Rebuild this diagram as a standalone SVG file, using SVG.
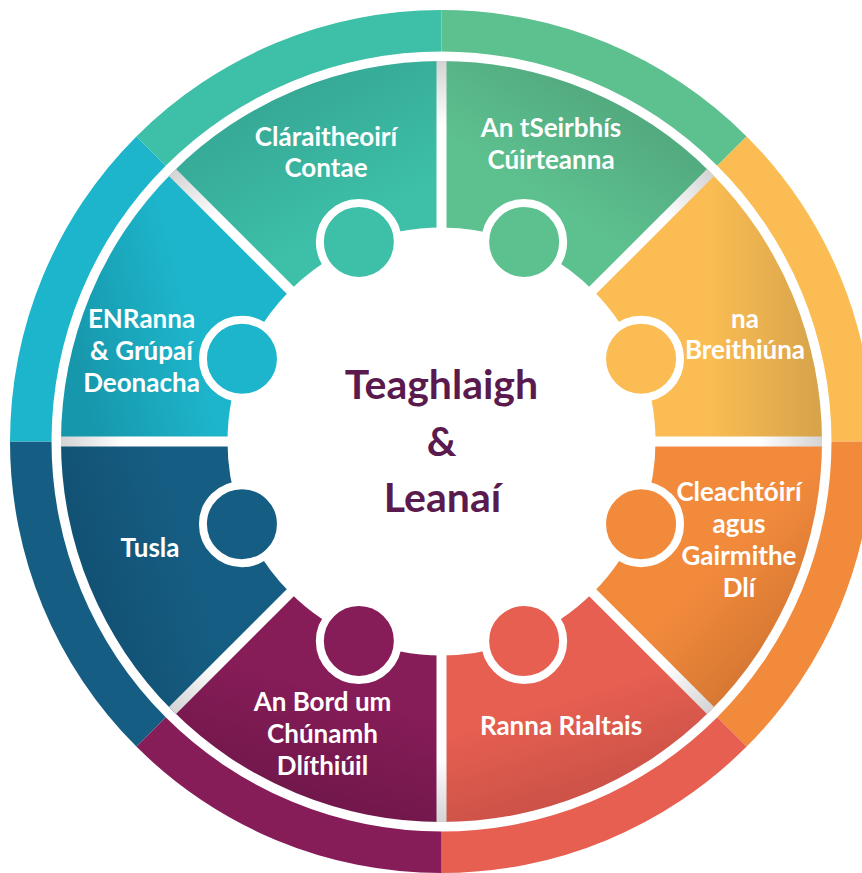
<svg xmlns="http://www.w3.org/2000/svg" width="862" height="873" viewBox="0 0 862 873">
<style>
.lbl{font-family:Lato,"Open Sans","Liberation Sans",sans-serif;font-weight:700;font-size:26px;fill:#ffffff;text-anchor:middle}
.title{font-family:Lato,"Open Sans","Liberation Sans",sans-serif;font-weight:700;font-size:41px;fill:#5b1a4e;text-anchor:middle}
.head{stroke:#ffffff;stroke-width:8}
.div{stroke:url(#divGrad);stroke-width:10;fill:none}
</style>
<defs>
<radialGradient id="divGrad" gradientUnits="userSpaceOnUse" cx="441.5" cy="441.5" r="380.5">
<stop offset="0" stop-color="#ffffff"/>
<stop offset="0.83" stop-color="#ffffff"/>
<stop offset="1" stop-color="#d4d4d4"/>
</radialGradient>
<linearGradient id="gTeal" x1="0.15" y1="0" x2="0.6" y2="0.75"><stop offset="0" stop-color="#33a08e"/><stop offset="1" stop-color="#3dbfa8"/></linearGradient>
<linearGradient id="gGreen" x1="0.9" y1="0.05" x2="0.45" y2="0.65"><stop offset="0" stop-color="#4d9f77"/><stop offset="1" stop-color="#5dc08f"/></linearGradient>
<linearGradient id="gYellow" x1="1" y1="0.5" x2="0.5" y2="0.5"><stop offset="0" stop-color="#d6a34b"/><stop offset="1" stop-color="#fbbd53"/></linearGradient>
<linearGradient id="gOrange" x1="0.95" y1="0.9" x2="0.55" y2="0.45"><stop offset="0" stop-color="#c86f2e"/><stop offset="1" stop-color="#f28a3c"/></linearGradient>
<linearGradient id="gRed" x1="0.7" y1="1" x2="0.5" y2="0.45"><stop offset="0" stop-color="#c24c44"/><stop offset="1" stop-color="#e65f51"/></linearGradient>
<linearGradient id="gPurple" x1="0.3" y1="1" x2="0.5" y2="0.4"><stop offset="0" stop-color="#6a1647"/><stop offset="1" stop-color="#861c58"/></linearGradient>
<linearGradient id="gBlue" x1="0" y1="0.6" x2="0.55" y2="0.4"><stop offset="0" stop-color="#104e6f"/><stop offset="1" stop-color="#165d83"/></linearGradient>
<linearGradient id="gCyan" x1="0" y1="0.5" x2="0.5" y2="0.35"><stop offset="0" stop-color="#1797ab"/><stop offset="1" stop-color="#1db5cb"/></linearGradient>
</defs>
<rect width="862" height="873" fill="#ffffff"/>

<g id="outer-ring">
<path d="M136.38 136.38 A431.5 431.5 0 0 1 441.5 10 L441.5 51.5 A390 390 0 0 0 165.73 165.73 Z" fill="#3dbfa8"/>
<path d="M441.5 10 A431.5 431.5 0 0 1 746.62 136.38 L717.27 165.73 A390 390 0 0 0 441.5 51.5 Z" fill="#5dc08f"/>
<path d="M746.62 136.38 A431.5 431.5 0 0 1 873 441.5 L831.5 441.5 A390 390 0 0 0 717.27 165.73 Z" fill="#fbbd53"/>
<path d="M873 441.5 A431.5 431.5 0 0 1 746.62 746.62 L717.27 717.27 A390 390 0 0 0 831.5 441.5 Z" fill="#f28a3c"/>
<path d="M746.62 746.62 A431.5 431.5 0 0 1 441.5 873 L441.5 831.5 A390 390 0 0 0 717.27 717.27 Z" fill="#e65f51"/>
<path d="M441.5 873 A431.5 431.5 0 0 1 136.38 746.62 L165.73 717.27 A390 390 0 0 0 441.5 831.5 Z" fill="#861c58"/>
<path d="M136.38 746.62 A431.5 431.5 0 0 1 10 441.5 L51.5 441.5 A390 390 0 0 0 165.73 717.27 Z" fill="#165d83"/>
<path d="M10 441.5 A431.5 431.5 0 0 1 136.38 136.38 L165.73 165.73 A390 390 0 0 0 51.5 441.5 Z" fill="#1db5cb"/>
</g>

<g id="node-claraitheoiri">
<path d="M172.44 172.44 A380.5 380.5 0 0 1 441.5 61 L441.5 227.5 A214 214 0 0 0 290.18 290.18 Z" fill="url(#gTeal)"/>
<circle class="head" cx="358.84" cy="241.94" r="39" fill="#3dbfa8"/>
<text class="lbl" x="326" y="146">Cláraitheoirí</text>
<text class="lbl" x="326" y="177">Contae</text>
</g>

<g id="node-seirbhis">
<path d="M441.5 61 A380.5 380.5 0 0 1 710.56 172.44 L592.82 290.18 A214 214 0 0 0 441.5 227.5 Z" fill="url(#gGreen)"/>
<circle class="head" cx="524.16" cy="241.94" r="39" fill="#5dc08f"/>
<text class="lbl" x="551" y="137">An tSeirbhís</text>
<text class="lbl" x="551" y="169">Cúirteanna</text>
</g>

<g id="node-breithiuna">
<path d="M710.56 172.44 A380.5 380.5 0 0 1 822 441.5 L655.5 441.5 A214 214 0 0 0 592.82 290.18 Z" fill="url(#gYellow)"/>
<circle class="head" cx="641.06" cy="358.84" r="39" fill="#fbbd53"/>
<text class="lbl" x="745" y="328">na</text>
<text class="lbl" x="745" y="359">Breithiúna</text>
</g>

<g id="node-cleachtoiri">
<path d="M822 441.5 A380.5 380.5 0 0 1 710.56 710.56 L592.82 592.82 A214 214 0 0 0 655.5 441.5 Z" fill="url(#gOrange)"/>
<circle class="head" cx="641.06" cy="524.16" r="39" fill="#f28a3c"/>
<text class="lbl" x="739" y="501">Cleachtóirí</text>
<text class="lbl" x="739" y="533">agus</text>
<text class="lbl" x="739" y="565">Gairmithe</text>
<text class="lbl" x="739" y="597">Dlí</text>
</g>

<g id="node-ranna-rialtais">
<path d="M710.56 710.56 A380.5 380.5 0 0 1 441.5 822 L441.5 655.5 A214 214 0 0 0 592.82 592.82 Z" fill="url(#gRed)"/>
<circle class="head" cx="524.16" cy="641.06" r="39" fill="#e65f51"/>
<text class="lbl" x="561" y="735">Ranna Rialtais</text>
</g>

<g id="node-bord">
<path d="M441.5 822 A380.5 380.5 0 0 1 172.44 710.56 L290.18 592.82 A214 214 0 0 0 441.5 655.5 Z" fill="url(#gPurple)"/>
<circle class="head" cx="358.84" cy="641.06" r="39" fill="#861c58"/>
<text class="lbl" x="322.5" y="711">An Bord um</text>
<text class="lbl" x="322.5" y="743">Chúnamh</text>
<text class="lbl" x="322.5" y="775">Dlíthiúil</text>
</g>

<g id="node-tusla">
<path d="M172.44 710.56 A380.5 380.5 0 0 1 61 441.5 L227.5 441.5 A214 214 0 0 0 290.18 592.82 Z" fill="url(#gBlue)"/>
<circle class="head" cx="241.94" cy="524.16" r="39" fill="#165d83"/>
<text class="lbl" x="150" y="557">Tusla</text>
</g>

<g id="node-enranna">
<path d="M61 441.5 A380.5 380.5 0 0 1 172.44 172.44 L290.18 290.18 A214 214 0 0 0 227.5 441.5 Z" fill="url(#gCyan)"/>
<circle class="head" cx="241.94" cy="358.84" r="39" fill="#1db5cb"/>
<text class="lbl" x="141.5" y="328">ENRanna</text>
<text class="lbl" x="141.5" y="360">&amp; Grúpaí</text>
<text class="lbl" x="141.5" y="392">Deonacha</text>
</g>

<g id="connectors">
<line class="div" x1="641.5" y1="441.5" x2="822" y2="441.5"/>
<line class="div" x1="582.92" y1="582.92" x2="710.56" y2="710.56"/>
<line class="div" x1="441.5" y1="641.5" x2="441.5" y2="822"/>
<line class="div" x1="300.08" y1="582.92" x2="172.44" y2="710.56"/>
<line class="div" x1="241.5" y1="441.5" x2="61" y2="441.5"/>
<line class="div" x1="300.08" y1="300.08" x2="172.44" y2="172.44"/>
<line class="div" x1="441.5" y1="241.5" x2="441.5" y2="61"/>
<line class="div" x1="582.92" y1="300.08" x2="710.56" y2="172.44"/>
</g>

<g id="node-center">
<text class="title" x="441.5" y="399">Teaghlaigh</text>
<text class="title" x="441.5" y="456">&amp;</text>
<text class="title" x="442.5" y="512">Leanaí</text>
</g>
</svg>
